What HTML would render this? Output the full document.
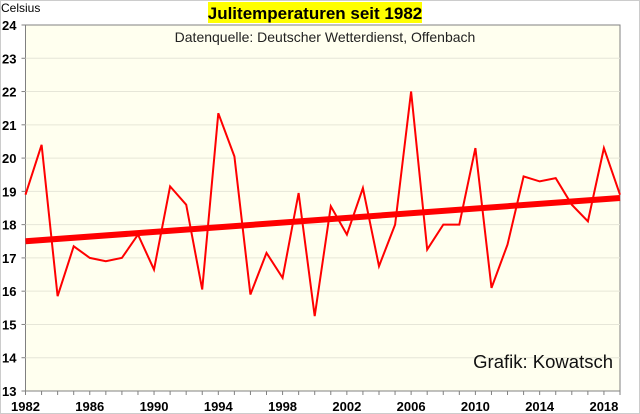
<!DOCTYPE html>
<html><head><meta charset="utf-8"><style>
html,body{margin:0;padding:0;background:#fff;}
svg{display:block;font-family:"Liberation Sans",sans-serif;}
</style></head><body>
<svg id="chart" width="640" height="414">
<rect x="0.5" y="0.5" width="639" height="413" fill="#fff" stroke="#ccc"/>
<rect x="25.5" y="25" width="594.5" height="366" fill="#ffffef" stroke="#808080"/>
<g id="grid"></g><g id="axes"></g>
<rect x="208" y="2" width="214" height="21" fill="#ffff00"/>
<text x="315" y="19" text-anchor="middle" font-size="17" font-weight="bold">Julitemperaturen seit 1982</text>
<text x="1" y="12" font-size="12">Celsius</text>
<text x="325" y="42" text-anchor="middle" font-size="14" fill="#222">Datenquelle: Deutscher Wetterdienst, Offenbach</text>
<text x="613" y="368" text-anchor="end" font-size="18.5" fill="#111">Grafik: Kowatsch</text>
<g id="series"></g>
</svg>
<script>
const years=[];for(let y=1982;y<=2019;y++)years.push(y);
const temps=[18.9,20.4,15.85,17.35,17.0,16.9,17.0,17.7,16.65,19.15,18.6,16.05,21.35,20.05,15.9,17.15,16.4,18.95,15.25,18.55,17.7,19.1,16.75,18.0,22.0,17.25,18.0,18.0,20.3,16.1,17.4,19.45,19.3,19.4,18.6,18.1,20.3,18.9];
const trendStart=17.5, trendEnd=18.8;
const yTicks=[13,14,15,16,17,18,19,20,21,22,23,24];
const xTickLabels=[1982,1986,1990,1994,1998,2002,2006,2010,2014,2018];
const X0=25.5,X1=620,Y0=391,Y1=25;
const xs=v=>X0+(v-1982)/(2019-1982)*(X1-X0);
const ys=v=>Y0-(v-13)/(24-13)*(Y0-Y1);
const NS="http://www.w3.org/2000/svg";
function mk(tag,parent,attrs){const e=document.createElementNS(NS,tag);for(const k in attrs)e.setAttribute(k,attrs[k]);document.getElementById(parent).appendChild(e);return e;}
yTicks.forEach(t=>{
  if(t>13&&t<24){const g=mk('line','grid',{x1:X0,x2:X1,y1:ys(t),y2:ys(t),stroke:'#e6e6d8','stroke-width':1});
  
  }
  const tk=mk('line','axes',{x1:X0-4,x2:X0,y1:ys(t),y2:ys(t),stroke:'#808080'});
  
  
  const l=mk('text','axes',{x:2,y:ys(t)+5,'font-size':13,'font-weight':'bold'});l.textContent=t;
  
  
});
years.forEach(y=>{
  const tk=mk('line','axes',{x1:xs(y),x2:xs(y),y1:Y0,y2:Y0+4,stroke:'#808080'});
  
  
});
xTickLabels.forEach(y=>{
  const l=mk('text','axes',{x:xs(y),y:411,'text-anchor':'middle','font-size':13,'font-weight':'bold'});l.textContent=y;
  
  
});
const tr=mk('line','series',{x1:xs(1982),y1:ys(trendStart),x2:xs(2019),y2:ys(trendEnd),stroke:'#ff0000','stroke-width':6});


const pts=temps.map((v,i)=>xs(years[i]).toFixed(1)+','+ys(v).toFixed(1)).join(' ');
const pl=mk('polyline','series',{points:pts,fill:'none',stroke:'#ff0000','stroke-width':2,'stroke-linejoin':'miter'});


</script>
</body></html>
